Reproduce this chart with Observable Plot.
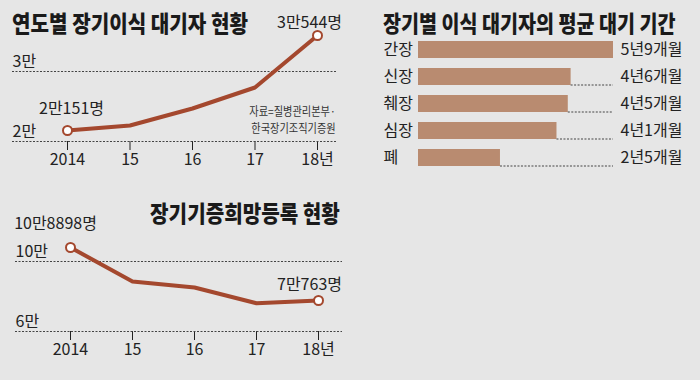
<!DOCTYPE html>
<html>
<head>
<meta charset="utf-8">
<script src="https://cdn.jsdelivr.net/npm/d3@7"></script>
<script src="https://cdn.jsdelivr.net/npm/@observablehq/plot@0.6"></script>
<style>
  body { margin: 0; }
  #wrap { position: relative; width: 700px; height: 380px; background: #e6e6e6; overflow: hidden; font-family: "Noto Sans CJK KR", sans-serif; color: #1a1a1a; }
  .panel { position: absolute; }
  .title { position: absolute; font-family: "Noto Sans CJK KR", sans-serif; font-weight: 900; font-size: 23px; line-height: 23px; white-space: nowrap; color: #1a1a1a; }
  .note { position: absolute; font-family: "Noto Sans CJK KR", sans-serif; font-size: 12px; line-height: 17px; text-align: right; color: #333; white-space: nowrap; transform: scaleX(0.85); transform-origin: right center; }
</style>
</head>
<body>
<div id="wrap">
  <div class="panel" id="c1" style="left:0;top:0"></div>
  <div class="panel" id="c2" style="left:0;top:180px"></div>
  <div class="panel" id="c3" style="left:350px;top:0"></div>
  <div class="title" style="left:12px;top:10.5px;transform:scaleX(0.875);transform-origin:left center">연도별 장기이식 대기자 현황</div>
  <div class="title" style="right:360px;top:200.5px;transform:scaleX(0.875);transform-origin:right center">장기기증희망등록 현황</div>
  <div class="title" style="left:383px;top:10.5px;font-size:22.5px;transform:scaleX(0.87);transform-origin:left center">장기별 이식 대기자의 평균 대기 기간</div>
  <div class="note" style="right:364px;top:101.5px">자료=질병관리본부·<br>한국장기조직기증원</div>
</div>
<script>
// ---- data ----
const years = [2014, 2015, 2016, 2017, 2018];
const yearLabels = ["2014", "15", "16", "17", "18년"];

const waiting = [20151, 20986, 23824, 27329, 30544];
const waitingLabels = ["2만151명", "", "", "", "3만544명"];
const waitingTicks = [20000, 30000];
const waitingTickLabels = ["2만", "3만"];

const pledges = [108898, 85007, 80509, 69826, 70763];
const pledgeLabels = ["10만8898명", "", "", "", "7만763명"];
const pledgeTicks = [60000, 100000];
const pledgeTickLabels = ["6만", "10만"];

const organs = ["간장", "신장", "췌장", "심장", "폐"];
const waitMonths = [69, 54, 53, 49, 29];
const waitLabels = ["5년9개월", "4년6개월", "4년5개월", "4년1개월", "2년5개월"];

// ---- styles ----
const LINE = "#a4482e";
const BAR = "#b98b70";
const GRID = "#444";
const FONT = '"Liberation Sans Narrow", "Noto Sans CJK KR", sans-serif';
const baseStyle = { background: "transparent", fontFamily: FONT, fontSize: "16px", color: "#222", overflow: "visible" };

const waitRows = years.map((year, i) => ({ year, value: waiting[i], label: waitingLabels[i] }));
const pledgeRows = years.map((year, i) => ({ year, value: pledges[i], label: pledgeLabels[i] }));
const organRows = organs.map((organ, i) => ({ organ, months: waitMonths[i], label: waitLabels[i] }));
const fmtYear = d => yearLabels[years.indexOf(d)];

// The infographic's vertical axis is not uniform: a piecewise-linear
// transform reproduces its distorted spacing (values -> display units).
const waitWarp = d3.scaleLinear()
  .domain([waitingTicks[0], waiting[0], waitingTicks[1], waiting[waiting.length - 1]])
  .range([0, 11, 70, 106]);
const pledgeWarp = d3.scaleLinear()
  .domain([pledgeTicks[0], pledges[pledges.length - 1], pledgeTicks[1], pledges[0]])
  .range([0, 31, 70, 84]);

// ---- chart 1: 연도별 장기이식 대기자 현황 ----
const c1 = Plot.plot({
  width: 345, height: 180,
  marginLeft: 12, marginRight: 8, marginTop: 0, marginBottom: 39,
  style: baseStyle,
  x: { domain: [years[0], years[years.length - 1]], range: [67, 317], ticks: years, tickFormat: fmtYear, tickSize: 9, tickPadding: 3, label: null },
  y: { transform: waitWarp, domain: [0, 106], range: [141, 35], axis: null },
  marks: [
    Plot.ruleY(waitingTicks, { stroke: GRID, strokeWidth: 1, strokeDasharray: "2,1.5" }),
    Plot.text(waitingTicks, { y: d => d, text: (d, i) => waitingTickLabels[i], frameAnchor: "left", textAnchor: "start", dy: -10, fontSize: 16, fill: "#222" }),
    Plot.line(waitRows, { x: "year", y: "value", stroke: LINE, strokeWidth: 4, strokeLinejoin: "round" }),
    Plot.dot([waitRows[0], waitRows[waitRows.length - 1]], { x: "year", y: "value", r: 4.5, fill: "white", stroke: LINE, strokeWidth: 2 }),
    Plot.text([waitRows[0]], { x: "year", y: "value", text: "label", dx: 4, dy: -22, fontSize: 16, fill: "#222" }),
    Plot.text([waitRows[waitRows.length - 1]], { x: "year", y: "value", text: "label", dx: -8, dy: -13, fontSize: 16, fill: "#222" })
  ]
});
document.getElementById("c1").appendChild(c1);

// ---- chart 2: 장기기증희망등록 현황 ----
const c2 = Plot.plot({
  width: 350, height: 200,
  marginLeft: 15, marginRight: 8, marginTop: 0, marginBottom: 49,
  style: baseStyle,
  x: { domain: [years[0], years[years.length - 1]], range: [70, 318], ticks: years, tickFormat: fmtYear, tickSize: 9, tickPadding: 3, label: null },
  y: { transform: pledgeWarp, domain: [0, 84], range: [151, 67], axis: null },
  marks: [
    Plot.ruleY(pledgeTicks, { stroke: GRID, strokeWidth: 1, strokeDasharray: "2,1.5" }),
    Plot.text(pledgeTicks, { y: d => d, text: (d, i) => pledgeTickLabels[i], frameAnchor: "left", textAnchor: "start", dy: -10, fontSize: 16, fill: "#222" }),
    Plot.line(pledgeRows, { x: "year", y: "value", stroke: LINE, strokeWidth: 4, strokeLinejoin: "round" }),
    Plot.dot([pledgeRows[0], pledgeRows[pledgeRows.length - 1]], { x: "year", y: "value", r: 4.5, fill: "white", stroke: LINE, strokeWidth: 2 }),
    Plot.text([pledgeRows[0]], { x: "year", y: "value", text: "label", dx: -15, dy: -24, fontSize: 16, fill: "#222" }),
    Plot.text([pledgeRows[pledgeRows.length - 1]], { x: "year", y: "value", text: "label", dx: -9, dy: -16, fontSize: 16, fill: "#222" })
  ]
});
document.getElementById("c2").appendChild(c2);

// ---- chart 3: 장기별 이식 대기자의 평균 대기 기간 ----
const maxM = d3.max(waitMonths);
const c3 = Plot.plot({
  width: 350, height: 180,
  marginLeft: 33, marginRight: 0, marginTop: 0, marginBottom: 0,
  style: baseStyle,
  x: { domain: [0, maxM], range: [68, 263], axis: null },
  y: { domain: organs, range: [36.5, 171.5], paddingInner: 0.37, paddingOuter: 0.185, axis: null },
  marks: [
    Plot.barX(organRows, { x: "months", y: "organ", fill: BAR }),
    Plot.ruleY(organRows.filter(d => d.months < maxM), { y: "organ", x1: "months", x2: () => maxM, dy: 8, stroke: GRID, strokeWidth: 1, strokeDasharray: "2,1.5" }),
    Plot.text(organRows, { y: "organ", text: "organ", frameAnchor: "left", textAnchor: "start", fontSize: 16, fill: "#222" }),
    Plot.text(organRows, { y: "organ", x: () => maxM, text: "label", textAnchor: "start", dx: 7, fontSize: 16, fill: "#222" })
  ]
});
document.getElementById("c3").appendChild(c3);
</script>
</body>
</html>
